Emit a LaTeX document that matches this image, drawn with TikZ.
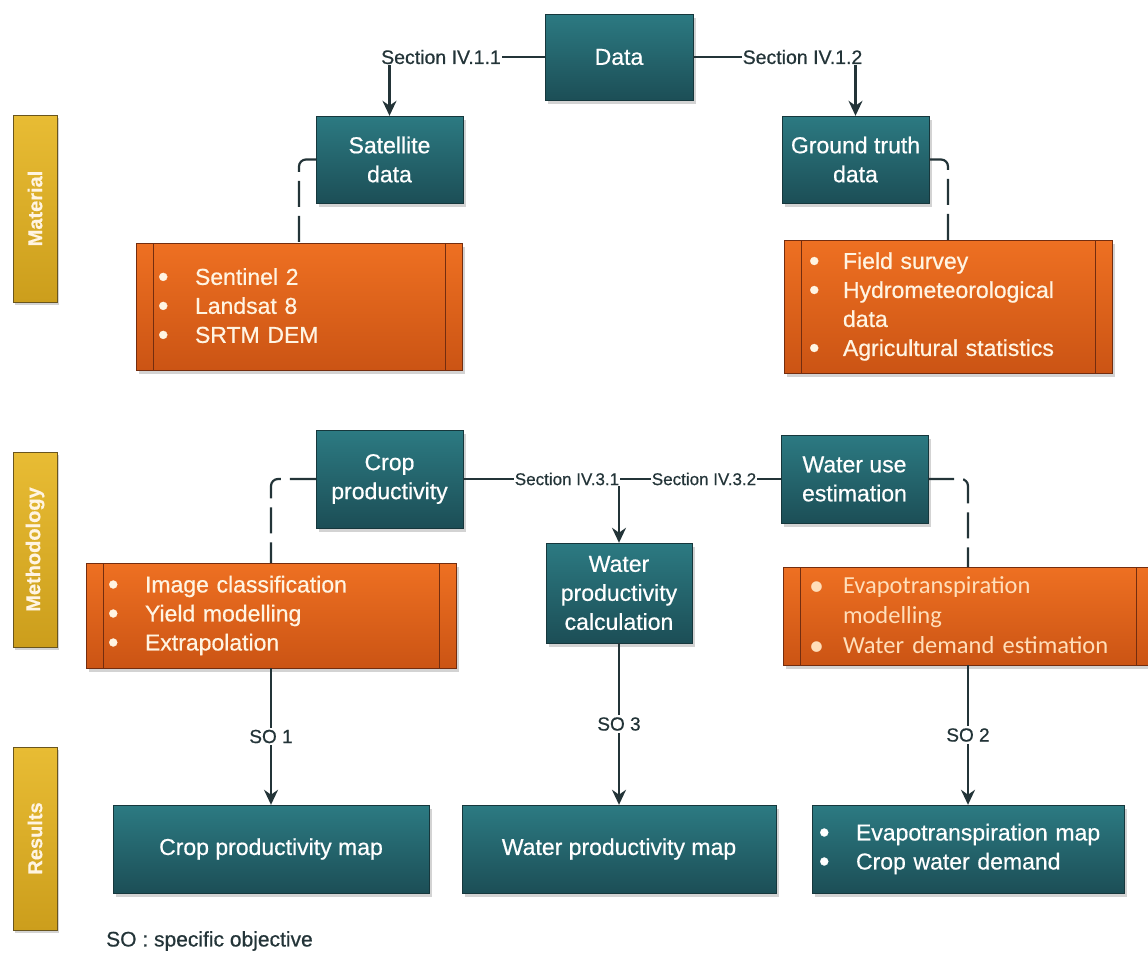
\documentclass[tikz,border=0pt]{standalone}
\usepackage{fontspec}
\setmainfont{Liberation Sans}[FakeBold=0.6]
\newfontfamily\lightfont{Carlito}
\usepackage{tikz}
\usetikzlibrary{arrows.meta,shadows,calc}
\usepackage{xcolor}
\definecolor{tealtop}{RGB}{44,122,130}
\definecolor{tealbot}{RGB}{28,78,86}
\definecolor{tealedge}{RGB}{22,55,60}
\definecolor{orgtop}{RGB}{238,112,34}
\definecolor{orgbot}{RGB}{203,84,20}
\definecolor{orgedge}{RGB}{115,45,15}
\definecolor{goldtop}{RGB}{232,188,52}
\definecolor{goldbot}{RGB}{204,158,28}
\definecolor{goldedge}{RGB}{105,85,30}
\definecolor{linecol}{RGB}{35,52,56}
\definecolor{cream}{RGB}{255,244,226}
\definecolor{peach}{RGB}{255,222,185}
\newcommand{\itm}[1][37pt]{\makebox[#1][l]{\raisebox{-2pt}{\fontsize{30}{30}\selectfont •}}}

\begin{document}
\begin{tikzpicture}[x=1pt,y=-1pt,
	tealbox/.style={draw=tealedge,top color=tealtop,bottom color=tealbot,text=white,align=center,inner sep=2pt,
		font=\fontsize{23}{29}\selectfont,drop shadow={shadow xshift=3pt,shadow yshift=-4pt,opacity=0.35}},
	orgbox/.style={draw=orgedge,top color=orgtop,bottom color=orgbot,text=cream,align=left,inner ysep=2pt,
		font=\fontsize{23}{29}\selectfont,drop shadow={shadow xshift=3pt,shadow yshift=-4pt,opacity=0.35},
		path picture={\draw[orgedge,line width=1pt]
			([xshift=17pt]path picture bounding box.north west) -- ([xshift=17pt]path picture bounding box.south west)
			([xshift=-17pt]path picture bounding box.north east) -- ([xshift=-17pt]path picture bounding box.south east);}},
	sidebar/.style={draw=goldedge,top color=goldtop,bottom color=goldbot,text=cream,rotate=90,minimum height=44pt,
		font=\fontsize{20}{22}\selectfont\bfseries,drop shadow={shadow xshift=2pt,shadow yshift=-3pt,opacity=0.35}},
	seclabel/.style={text=linecol,inner sep=1pt,font=\fontsize{19.5}{22}\selectfont},
	solabel/.style={text=linecol,fill=white,inner sep=2pt,font=\fontsize{19}{22}\selectfont},
	conn/.style={draw=linecol,line width=2.2pt},
	dashline/.style={draw=linecol,line width=2.2pt,dash pattern=on 26pt off 9pt,rounded corners=7pt},
	arr/.style={conn,-{Stealth[length=15pt,width=14pt]}}]
\useasboundingbox (0,0) rectangle (1148,954);

% side bars
\node[sidebar,minimum width=187pt] (matbar) at (35,208.5) {Material};
\node[sidebar,minimum width=195pt] (methbar) at (35,549.5) {Methodology};
\node[sidebar,minimum width=183pt] (resbar) at (35,838.5) {Results};

% material
\node[tealbox,minimum width=148pt,minimum height=86pt] (data) at (619,57) {Data};
\node[tealbox,minimum width=147pt,minimum height=87pt] (sat) at (389.5,159.5) {Satellite\\data};
\node[tealbox,minimum width=147pt,minimum height=87pt] (truth) at (855.5,159.5) {Ground truth\\data};
\node[orgbox,text width=282pt,inner xsep=22pt,minimum height=127pt] (satlist) at (299,306.5)
	{\itm Sentinel 2\\ \itm Landsat 8\\ \itm SRTM DEM};
\node[orgbox,text width=278pt,inner xsep=25pt,minimum height=133pt] (truthlist) at (948,306.5)
	{\itm[34pt]Field survey\\ \itm[34pt]Hydrometeorological\\ \makebox[34pt]{}data\\ \itm[34pt]Agricultural statistics};

\node[seclabel] (secA) at (441,57) {Section IV.1.1};
\node[seclabel] (secB) at (802.5,57) {Section IV.1.2};

% methodology
\node[tealbox,minimum width=147pt,minimum height=98pt] (crop) at (389.5,479) {Crop\\productivity};
\node[tealbox,minimum width=147pt,minimum height=88pt] (wuse) at (854.5,479) {Water use\\estimation};
\node[tealbox,minimum width=146pt,minimum height=100pt] (wpc) at (619,593) {Water\\productivity\\calculation};
\node[orgbox,text width=326pt,inner xsep=22pt,minimum height=105pt] (croplist) at (271,615.5)
	{\itm Image classification\\ \itm Yield modelling\\ \itm Extrapolation};
\node[orgbox,text width=318pt,inner xsep=26pt,minimum height=98pt,text=peach,
	font=\lightfont\fontsize{24.5}{30}\selectfont] (wuselist) at (968,616)
	{\itm[34pt]Evapotranspiration\\ \makebox[34pt]{}modelling\\ \itm[34pt]Water demand estimation};

\node[seclabel,font=\fontsize{17}{20}\selectfont] (secC) at (567,479) {Section IV.3.1};
\node[seclabel,font=\fontsize{17}{20}\selectfont] (secD) at (704,479) {Section IV.3.2};

% results
\node[tealbox,minimum width=316pt,minimum height=88pt] (res1) at (271,849) {Crop productivity map};
\node[tealbox,minimum width=314pt,minimum height=88pt] (res2) at (619,849) {Water productivity map};
\node[tealbox,minimum width=312pt,minimum height=88pt,text width=298pt,inner xsep=6pt,align=left] (res3) at (968,849)
	{\itm[37pt]Evapotranspiration map\\ \itm[37pt]Crop water demand};

\node[anchor=west,text=linecol,inner sep=0pt,font=\fontsize{21}{24}\selectfont] (sonote) at (106,941) {SO : specific objective};

% connectors
\draw[conn] (data.west) -- (secA.east);
\draw[conn] (data.east) -- (secB.west);
\draw[arr] (secA.south -| sat.north) -- (sat.north);
\draw[arr] (secB.south -| truth.north) -- (truth.north);
\draw[dashline] (sat.west) -| (satlist.north);
\draw[dashline] (truth.east) -| (truthlist.north);

\draw[conn] (crop.east) -- (secC.west);
\draw[conn] (secC.east) -- (secD.west);
\draw[conn] (secD.east) -- (wuse.west);
\draw[arr] (secC.south -| wpc.north) -- (wpc.north);
\draw[dashline] (crop.west) -| (croplist.north);
\draw[dashline] (wuse.east) -| (wuselist.north);

\draw[arr] (croplist.south) -- node[solabel] {SO 1} (res1.north);
\draw[arr] (wpc.south) -- node[solabel] {SO 3} (res2.north);
\draw[arr] (wuselist.south) -- node[solabel] {SO 2} (res3.north);
\end{tikzpicture}
\end{document}
